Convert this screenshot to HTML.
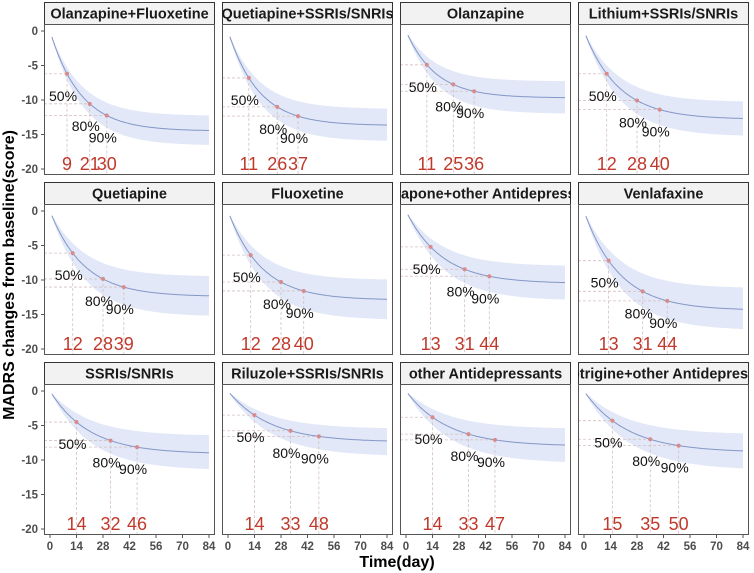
<!DOCTYPE html>
<html><head><meta charset="utf-8">
<style>
html,body{margin:0;padding:0;background:#fff;}
svg{display:block;font-family:"Liberation Sans",Arial,sans-serif;}
</style></head>
<body>
<svg id="chart" width="754" height="573" viewBox="0 0 754 573" xmlns="http://www.w3.org/2000/svg"></svg>
<script>
const titles = ["Olanzapine+Fluoxetine","Quetiapine+SSRIs/SNRIs","Olanzapine","Lithium+SSRIs/SNRIs",
"Quetiapine","Fluoxetine","rapone+other Antidepress","Venlafaxine",
"SSRIs/SNRIs","Riluzole+SSRIs/SNRIs","other Antidepressants","otrigine+other Antidepress"];
const emax = [-14.5,-13.7,-9.7,-12.8,-12.4,-12.9,-10.5,-14.4,-9.1,-7.4,-8.0,-8.9];
const y50  = [-6.2,-6.8,-4.9,-6.2,-6.1,-6.4,-5.2,-7.2,-4.5,-3.5,-3.8,-4.3];
const t50  = [9,11,11,12,12,12,13,13,14,14,14,15];
const t80  = [21,26,25,28,28,28,31,31,32,33,33,35];
const t90  = [30,37,36,40,39,40,44,44,46,48,47,50];
const bandHi = [-12.3,-11.3,-7.3,-10.3,-9.5,-10.0,-8.0,-11.2,-6.5,-5.5,-5.5,-6.3];
const bandLo = [-16.6,-16.0,-12.0,-15.3,-15.3,-15.8,-13.0,-17.3,-11.5,-9.5,-10.5,-11.5];
const yTicks = [0,-5,-10,-15,-20];
const xTicks = [0,14,28,42,56,70,84];

const NS="http://www.w3.org/2000/svg";
const svg=document.getElementById('chart');
function mk(tag,attrs,parent){const e=document.createElementNS(NS,tag);for(const k in attrs)e.setAttribute(k,attrs[k]);(parent||svg).appendChild(e);return e;}

const colL=[44,222,400,578], W=171;
const rowT=[2,182,362], SH=22, PH=151;

for(let i=0;i<12;i++){
  const c=i%4, r=Math.floor(i/4);
  const L=colL[c], T=rowT[r], PT=T+SH, PB=PT+PH;
  const xs=t=>L+6+t*(159/84);
  const ys=v=>PT+7-v*6.9;
  const g=mk('g',{});
  
  
  const clipId='clip'+i;
  const cp=mk('clipPath',{id:clipId},g); mk('rect',{x:L,y:T,width:W,height:SH},cp);
  const strip=mk('rect',{x:L+0.5,y:T+0.5,width:W-1,height:SH,fill:'#f2f2f2',stroke:'#333','stroke-width':1},g);
  
  
  const tt=mk('text',{x:L+W/2,y:T+16.5,'text-anchor':'middle','font-size':14.5,'font-weight':'bold',fill:'#1a1a1a','clip-path':'url(#'+clipId+')'},g);
  tt.textContent=titles[i];
  
  
  const k=-Math.log(1-y50[i]/emax[i])/t50[i];
  const curve=t=>emax[i]*(1-Math.exp(-k*t));
  let up=[],lo=[];
  for(let t=1;t<=84;t+=1){const y=curve(t);up.push(xs(t)+','+ys(y*bandHi[i]/emax[i]));lo.push(xs(t)+','+ys(y*bandLo[i]/emax[i]));}
  const band=mk('polygon',{points:up.concat(lo.reverse()).join(' '),fill:'#e2e8f7',stroke:'none'},g);
  
  
  const ts=[t50[i],t80[i],t90[i]], labs=['50%','80%','90%'];
  ts.forEach(t=>{
    const px=xs(t),py=ys(curve(t));
    const h=mk('line',{x1:L,y1:py,x2:px,y2:py,stroke:'#d4c0c0','stroke-width':0.8,'stroke-dasharray':'3,2'},g);
    
    
    const v=mk('line',{x1:px,y1:py,x2:px,y2:PB,stroke:'#d4c0c0','stroke-width':0.8,'stroke-dasharray':'3,2'},g);
    
    
  });
  let d='';
  for(let t=1;t<=84;t+=0.5){d+=(d?'L':'M')+xs(t).toFixed(1)+','+ys(curve(t)).toFixed(1);}
  const ln=mk('path',{d:d,fill:'none',stroke:'#8396c8','stroke-width':1},g);
  
  
  ts.forEach((t,j)=>{
    const px=xs(t),py=ys(curve(t));
    const p=mk('circle',{cx:px,cy:py,r:2,fill:'#d98a8a'},g);
    
    
    const lt=mk('text',{x:px-4,y:py+27,'text-anchor':'middle','font-size':14,fill:'#111'},g);
    lt.textContent=labs[j];
    
    
    const nt=mk('text',{x:px,y:PB-5,'text-anchor':'middle','font-size':18,fill:'#c0392b'},g);
    nt.textContent=String(t);
    
    
  });
  const fr=mk('rect',{x:L+0.5,y:PT+0.5,width:W-1,height:PH-1,fill:'none',stroke:'#555','stroke-width':1},g);
  
  
  if(c===0){
    yTicks.forEach(v=>{
      const y=ys(v);
      mk('line',{x1:L-3,y1:y,x2:L,y2:y,stroke:'#555'},g);
      const yt=mk('text',{x:L-6,y:y+4,'text-anchor':'end','font-size':11.5,'font-weight':'bold',fill:'#4d4d4d'},g);
      yt.textContent=String(v);
      
      
    });
  }
  if(r===2){
    xTicks.forEach(t=>{
      const x=xs(t);
      mk('line',{x1:x,y1:PB,x2:x,y2:PB+3,stroke:'#555'},g);
      const xt=mk('text',{x:x,y:PB+15,'text-anchor':'middle','font-size':11.5,'font-weight':'bold',fill:'#4d4d4d'},g);
      xt.textContent=String(t);
      
      
    });
  }
}
const yt=mk('text',{x:0,y:0,transform:'translate(14,275) rotate(-90)','text-anchor':'middle','font-size':16,'font-weight':'bold',fill:'#000'});
yt.textContent='MADRS changes from baseline(score)';


const xt=mk('text',{x:397,y:567,'text-anchor':'middle','font-size':16,'font-weight':'bold',fill:'#000'});
xt.textContent='Time(day)';


</script>
</body></html>
